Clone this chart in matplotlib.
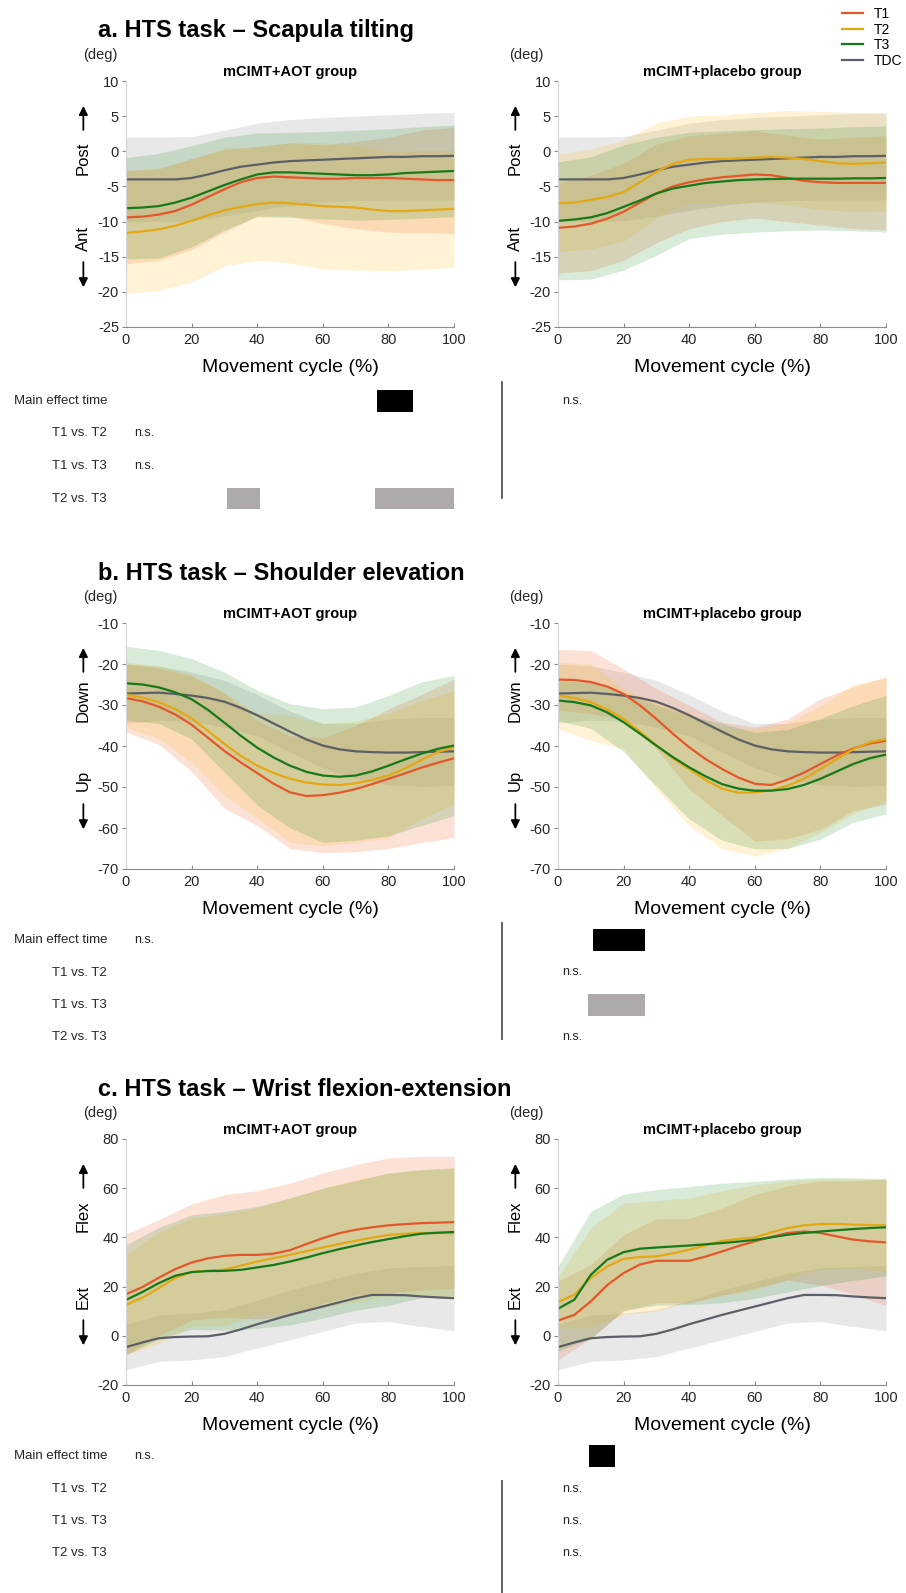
import numpy as np
import matplotlib
matplotlib.use("Agg")
import matplotlib.pyplot as plt
from matplotlib.lines import Line2D

plt.rcParams['font.family'] = ['Liberation Sans', 'DejaVu Sans']
plt.rcParams['axes.unicode_minus'] = False

# movement cycle grids (%)
x_mean = np.arange(0, 101, 5)
x_band = np.arange(0, 101, 10)

# ---------------- a. Scapula tilting ----------------
a_tdc = [-4.0, -4.0, -4.0, -4.0, -3.8, -3.3, -2.7, -2.2, -1.9, -1.6, -1.4, -1.3, -1.2, -1.1, -1.0, -0.9, -0.8, -0.8, -0.7, -0.7, -0.65]
a_tdc_hi = [2.0, 2.0, 2.1, 3.0, 4.0, 4.5, 4.8, 5.0, 5.2, 5.4, 5.5]
a_tdc_lo = [-10.0, -10.0, -9.9, -9.2, -8.4, -7.7, -7.2, -7.0, -6.9, -6.9, -6.9]

a_aot_t1 = [-9.4, -9.3, -9.0, -8.5, -7.6, -6.5, -5.4, -4.4, -3.8, -3.6, -3.7, -3.8, -3.9, -3.9, -3.8, -3.8, -3.8, -3.9, -4.0, -4.1, -4.1]
a_aot_t2 = [-11.6, -11.4, -11.1, -10.6, -9.9, -9.1, -8.4, -7.9, -7.5, -7.3, -7.4, -7.6, -7.8, -7.9, -8.0, -8.3, -8.5, -8.5, -8.4, -8.3, -8.2]
a_aot_t3 = [-8.1, -8.0, -7.8, -7.3, -6.6, -5.7, -4.8, -4.0, -3.3, -3.0, -3.0, -3.1, -3.2, -3.3, -3.4, -3.4, -3.3, -3.1, -3.0, -2.9, -2.8]
a_aot_t1_hi = [-2.7, -2.5, -1.0, 0.2, 0.7, 1.2, 0.9, 1.4, 2.0, 3.0, 3.4]
a_aot_t1_lo = [-16.0, -15.5, -14.0, -11.5, -9.2, -9.2, -10.3, -11.0, -11.5, -11.6, -11.7]
a_aot_t2_hi = [-2.9, -2.4, -1.2, 0.5, 0.5, 1.2, 1.2, 0.9, 0.0, 0.1, 0.1]
a_aot_t2_lo = [-20.2, -19.8, -18.6, -16.3, -15.5, -15.9, -16.8, -16.9, -17.0, -16.8, -16.5]
a_aot_t3_hi = [-0.9, -0.3, 0.8, 2.0, 2.6, 2.7, 2.8, 3.0, 3.2, 3.5, 3.7]
a_aot_t3_lo = [-15.3, -15.2, -13.6, -11.2, -9.3, -9.4, -9.6, -9.8, -9.7, -9.5, -9.3]

a_pla_t1 = [-10.9, -10.7, -10.3, -9.6, -8.6, -7.3, -6.0, -5.0, -4.4, -4.0, -3.7, -3.5, -3.3, -3.4, -3.8, -4.2, -4.4, -4.5, -4.5, -4.5, -4.5]
a_pla_t2 = [-7.4, -7.3, -6.9, -6.5, -5.8, -4.4, -2.9, -1.8, -1.2, -1.1, -1.1, -1.0, -0.9, -0.8, -0.9, -1.1, -1.4, -1.7, -1.8, -1.7, -1.6]
a_pla_t3 = [-9.9, -9.7, -9.4, -8.8, -7.9, -7.0, -6.0, -5.3, -4.9, -4.5, -4.3, -4.1, -4.0, -3.95, -3.9, -3.9, -3.9, -3.9, -3.85, -3.85, -3.8]
a_pla_t1_hi = [-4.5, -3.4, -1.7, 1.0, 2.2, 2.6, 2.9, 2.3, 1.7, 2.0, 2.2]
a_pla_t1_lo = [-17.3, -17.0, -15.5, -13.0, -11.0, -10.0, -9.5, -10.0, -10.5, -11.0, -11.2]
a_pla_t2_hi = [-0.4, 0.3, 1.6, 4.0, 5.0, 5.2, 5.5, 5.8, 5.7, 5.5, 5.3]
a_pla_t2_lo = [-14.3, -13.9, -12.8, -9.5, -7.4, -7.3, -7.3, -7.6, -8.3, -8.6, -8.5]
a_pla_t3_hi = [-1.5, -0.8, 0.9, 2.0, 2.7, 2.9, 3.1, 3.2, 3.3, 3.5, 3.6]
a_pla_t3_lo = [-18.3, -18.2, -16.9, -14.8, -12.4, -11.8, -11.5, -11.3, -11.2, -11.3, -11.5]

# ---------------- b. Shoulder elevation ----------------
b_tdc = [-27.2, -27.1, -27.0, -27.3, -27.7, -28.3, -29.2, -30.7, -32.5, -34.5, -36.5, -38.4, -39.9, -40.8, -41.3, -41.5, -41.6, -41.6, -41.5, -41.4, -41.3]
b_tdc_hi = [-20.0, -20.5, -22.0, -24.0, -27.5, -31.5, -34.5, -34.5, -33.5, -33.0, -33.0]
b_tdc_lo = [-34.4, -33.7, -34.0, -35.4, -37.5, -41.5, -45.3, -48.0, -49.5, -49.8, -49.6]

b_aot_t1 = [-28.3, -29.1, -30.4, -32.3, -34.8, -38.0, -41.2, -44.0, -46.6, -49.2, -51.3, -52.2, -52.0, -51.4, -50.5, -49.3, -48.0, -46.7, -45.3, -44.1, -43.0]
b_aot_t2 = [-27.5, -28.2, -29.3, -31.0, -33.3, -36.3, -39.5, -42.4, -44.8, -46.6, -48.0, -48.9, -49.4, -49.5, -49.1, -48.3, -47.2, -45.5, -43.4, -41.5, -40.3]
b_aot_t3 = [-24.7, -25.0, -25.7, -26.9, -28.6, -31.2, -34.3, -37.5, -40.4, -42.8, -44.8, -46.3, -47.2, -47.5, -47.2, -46.2, -44.8, -43.3, -41.9, -40.7, -39.9]
b_aot_t1_hi = [-20.0, -21.0, -23.0, -27.0, -33.8, -37.5, -38.0, -35.0, -31.0, -27.5, -23.7]
b_aot_t1_lo = [-36.6, -39.6, -46.2, -55.2, -59.4, -65.0, -66.0, -65.8, -65.0, -63.6, -62.3]
b_aot_t2_hi = [-19.5, -20.5, -22.5, -27.0, -32.0, -32.5, -34.5, -34.0, -32.0, -29.0, -26.5]
b_aot_t2_lo = [-35.5, -38.1, -44.1, -52.0, -57.6, -63.5, -64.3, -63.5, -62.4, -57.8, -54.1]
b_aot_t3_hi = [-15.7, -16.7, -18.7, -22.0, -26.4, -29.7, -30.9, -30.5, -27.7, -24.4, -22.8]
b_aot_t3_lo = [-33.7, -34.5, -38.3, -46.4, -54.4, -60.0, -63.5, -63.0, -61.9, -59.4, -57.0]

b_pla_t1 = [-23.8, -23.9, -24.4, -25.5, -27.3, -30.1, -33.4, -37.0, -40.3, -43.2, -45.6, -47.7, -49.2, -49.5, -48.2, -46.5, -44.4, -42.3, -40.6, -39.4, -38.7]
b_pla_t2 = [-27.7, -28.3, -29.3, -31.1, -33.4, -36.5, -39.9, -43.0, -45.6, -48.3, -50.4, -51.4, -51.3, -50.8, -49.7, -48.0, -45.6, -43.2, -40.8, -39.1, -38.3]
b_pla_t3 = [-28.9, -29.3, -30.1, -31.8, -34.2, -37.0, -39.9, -42.7, -45.2, -47.4, -49.3, -50.4, -50.9, -50.9, -50.5, -49.5, -48.0, -46.2, -44.4, -43.0, -42.1]
b_pla_t1_hi = [-16.4, -16.7, -21.2, -26.0, -30.1, -34.2, -35.4, -33.4, -28.5, -25.6, -23.2]
b_pla_t1_lo = [-31.2, -32.1, -33.4, -40.8, -50.5, -57.0, -63.2, -62.6, -60.3, -55.8, -54.2]
b_pla_t2_hi = [-19.6, -20.0, -26.1, -29.3, -31.8, -35.7, -35.8, -34.4, -30.2, -25.0, -23.3]
b_pla_t2_lo = [-35.8, -38.6, -40.7, -50.5, -59.4, -65.1, -66.8, -65.0, -61.0, -56.6, -53.3]
b_pla_t3_hi = [-24.0, -24.5, -27.0, -30.0, -32.6, -34.5, -36.7, -36.0, -33.3, -30.2, -27.6]
b_pla_t3_lo = [-33.8, -35.7, -41.4, -49.8, -57.8, -63.0, -65.1, -65.0, -62.7, -58.6, -56.6]

# ---------------- c. Wrist flexion-extension ----------------
c_tdc = [-4.6, -2.7, -1.0, -0.5, -0.3, -0.2, 0.8, 2.6, 4.7, 6.6, 8.5, 10.2, 11.9, 13.6, 15.3, 16.6, 16.6, 16.5, 16.0, 15.6, 15.3]
c_tdc_hi = [4.6, 8.4, 9.2, 10.6, 14.4, 18.6, 22.0, 25.4, 27.6, 28.2, 28.6]
c_tdc_lo = [-13.8, -10.4, -9.8, -8.4, -5.0, -1.6, 1.8, 5.2, 5.8, 3.8, 2.0]

c_aot_t1 = [16.9, 19.8, 23.6, 27.1, 29.8, 31.5, 32.5, 32.9, 32.9, 33.4, 34.8, 37.3, 39.7, 41.7, 43.1, 44.1, 44.9, 45.4, 45.8, 46.0, 46.2]
c_aot_t2 = [12.6, 15.5, 19.4, 23.5, 25.9, 26.5, 26.9, 28.5, 30.2, 31.6, 32.9, 34.4, 35.9, 37.3, 38.6, 39.9, 41.0, 41.5, 41.8, 41.8, 41.7]
c_aot_t3 = [14.6, 17.8, 21.4, 24.4, 25.9, 26.3, 26.4, 26.8, 27.8, 28.8, 30.2, 31.8, 33.6, 35.2, 36.7, 38.1, 39.3, 40.5, 41.5, 41.9, 42.2]
c_aot_t1_hi = [41.4, 47.2, 53.6, 57.4, 59.0, 62.1, 66.2, 69.6, 72.3, 73.0, 73.0]
c_aot_t1_lo = [-7.6, 0.2, 6.4, 7.6, 6.8, 7.9, 13.2, 16.6, 17.5, 18.6, 19.4]
c_aot_t2_hi = [32.9, 42.0, 47.9, 49.5, 52.0, 56.0, 60.0, 63.5, 66.0, 67.5, 68.5]
c_aot_t2_lo = [-7.7, -3.2, 3.9, 4.1, 8.4, 9.8, 11.8, 13.7, 16.2, 16.1, 15.0]
c_aot_t3_hi = [37.0, 44.0, 49.2, 50.5, 52.6, 56.0, 60.0, 63.0, 66.2, 67.5, 68.2]
c_aot_t3_lo = [-7.8, -1.2, 2.6, 2.3, 3.0, 4.4, 7.2, 10.4, 12.4, 15.5, 16.2]

c_pla_t1 = [6.2, 8.5, 14.0, 20.6, 25.5, 29.0, 30.5, 30.5, 30.5, 32.2, 34.3, 36.5, 38.4, 40.2, 41.8, 42.4, 41.8, 40.4, 39.1, 38.4, 38.0]
c_pla_t2 = [13.7, 16.7, 23.5, 28.2, 31.3, 32.0, 32.3, 33.5, 35.0, 36.8, 38.6, 39.4, 40.0, 42.0, 43.8, 44.9, 45.4, 45.5, 45.2, 45.0, 44.9]
c_pla_t3 = [11.0, 14.7, 24.8, 30.9, 34.0, 35.4, 35.9, 36.3, 36.7, 37.2, 37.7, 38.3, 39.0, 40.0, 41.1, 41.8, 42.4, 42.9, 43.4, 43.8, 44.1]
c_pla_t1_hi = [22.2, 29.0, 41.1, 47.5, 47.7, 52.0, 57.4, 61.0, 62.9, 63.0, 63.7]
c_pla_t1_lo = [-9.8, -1.0, 9.9, 13.5, 13.3, 16.6, 19.4, 22.6, 20.7, 16.9, 12.3]
c_pla_t2_hi = [24.1, 43.8, 54.0, 55.0, 56.0, 59.0, 61.4, 63.0, 63.7, 63.6, 63.5]
c_pla_t2_lo = [3.3, 3.2, 8.6, 10.0, 14.0, 16.2, 18.6, 23.0, 27.1, 27.2, 26.3]
c_pla_t3_hi = [28.2, 50.6, 57.6, 59.4, 60.7, 62.0, 62.8, 63.7, 64.4, 64.2, 63.9]
c_pla_t3_lo = [-6.2, -1.0, 10.4, 12.4, 12.7, 13.4, 15.2, 17.8, 20.4, 22.5, 24.3]

# ---------------- SPM statistics (significant clusters, % of cycle) ----------------
stat_rows = ["Main effect time", "T1 vs. T2", "T1 vs. T3", "T2 vs. T3"]
a_aot_stats = [[(76.5, 87.5)], "n.s.", "n.s.", [(30.8, 40.9), (76.0, 100.5)]]
a_pla_stats = ["n.s.", None, None, None]
b_aot_stats = ["n.s.", None, None, None]
b_pla_stats = [[(10.7, 26.5)], "n.s.", [(9.1, 26.5)], "n.s."]
c_aot_stats = ["n.s.", None, None, None]
c_pla_stats = [[(9.5, 17.4)], "n.s.", "n.s.", "n.s."]

series = ["T1", "T2", "T3", "TDC"]
line_cols = {"T1": "#E4572A", "T2": "#E3A812", "T3": "#16791A", "TDC": "#5E5E66"}
fill_cols = {"T1": "#F26B3A", "T2": "#FFC02E", "T3": "#3C963C", "TDC": "#8C8C8C"}

panels = [
    dict(title="a. HTS task \u2013 Scapula tilting", ylim=(-25, 10), yticks=np.arange(-25, 11, 5),
         dirs=("Post", "Ant"), top=81, stat_top=401, vline=(382, 498),
         tdc=(a_tdc, a_tdc_lo, a_tdc_hi),
         groups=[dict(T1=(a_aot_t1, a_aot_t1_lo, a_aot_t1_hi), T2=(a_aot_t2, a_aot_t2_lo, a_aot_t2_hi),
                      T3=(a_aot_t3, a_aot_t3_lo, a_aot_t3_hi), stats=a_aot_stats),
                 dict(T1=(a_pla_t1, a_pla_t1_lo, a_pla_t1_hi), T2=(a_pla_t2, a_pla_t2_lo, a_pla_t2_hi),
                      T3=(a_pla_t3, a_pla_t3_lo, a_pla_t3_hi), stats=a_pla_stats)]),
    dict(title="b. HTS task \u2013 Shoulder elevation", ylim=(-70, -10), yticks=np.arange(-70, -9, 10),
         dirs=("Down", "Up"), top=623, stat_top=940, vline=(923, 1039),
         tdc=(b_tdc, b_tdc_lo, b_tdc_hi),
         groups=[dict(T1=(b_aot_t1, b_aot_t1_lo, b_aot_t1_hi), T2=(b_aot_t2, b_aot_t2_lo, b_aot_t2_hi),
                      T3=(b_aot_t3, b_aot_t3_lo, b_aot_t3_hi), stats=b_aot_stats),
                 dict(T1=(b_pla_t1, b_pla_t1_lo, b_pla_t1_hi), T2=(b_pla_t2, b_pla_t2_lo, b_pla_t2_hi),
                      T3=(b_pla_t3, b_pla_t3_lo, b_pla_t3_hi), stats=b_pla_stats)]),
    dict(title="c. HTS task \u2013 Wrist flexion-extension", ylim=(-20, 80), yticks=np.arange(-20, 81, 20),
         dirs=("Flex", "Ext"), top=1139, stat_top=1456, vline=(1481, 1593),
         tdc=(c_tdc, c_tdc_lo, c_tdc_hi),
         groups=[dict(T1=(c_aot_t1, c_aot_t1_lo, c_aot_t1_hi), T2=(c_aot_t2, c_aot_t2_lo, c_aot_t2_hi),
                      T3=(c_aot_t3, c_aot_t3_lo, c_aot_t3_hi), stats=c_aot_stats),
                 dict(T1=(c_pla_t1, c_pla_t1_lo, c_pla_t1_hi), T2=(c_pla_t2, c_pla_t2_lo, c_pla_t2_hi),
                      T3=(c_pla_t3, c_pla_t3_lo, c_pla_t3_hi), stats=c_pla_stats)]),
]
group_names = ["mCIMT+AOT group", "mCIMT+placebo group"]

W, H = 906, 1593
AX_LEFT = [126, 558]
AX_W, AX_H = 328, 246
ROW_H = 32.5

fig = plt.figure(figsize=(W / 100, H / 100), dpi=100)


def fig_box(x0, y0, w, h):
    return [x0 / W, 1 - (y0 + h) / H, w / W, h / H]


for p in panels:
    fig.text(98 / W, 1 - (p["top"] - 50) / H, p["title"], fontsize=17, fontweight="bold",
             ha="left", va="center")
    for gi, g in enumerate(p["groups"]):
        x0 = AX_LEFT[gi]
        ax = fig.add_axes(fig_box(x0, p["top"], AX_W, AX_H))
        curves = dict(T1=g["T1"], T2=g["T2"], T3=g["T3"], TDC=p["tdc"])
        for s in ["TDC", "T1", "T2", "T3"]:
            m, lo, hi = curves[s]
            ax.fill_between(x_band, lo, hi, color=fill_cols[s], alpha=0.2, lw=0)
        for s in ["TDC", "T1", "T2", "T3"]:
            ax.plot(x_mean, curves[s][0], color=line_cols[s], lw=1.6, label=s)
        ax.set_xlim(0, 100)
        ax.set_ylim(*p["ylim"])
        ax.set_xticks(np.arange(0, 101, 20))
        ax.set_yticks(p["yticks"])
        for sp in ["top", "right"]:
            ax.spines[sp].set_visible(False)
        ax.spines["left"].set_color("#d4d4d4")
        ax.spines["bottom"].set_color("#8a8a8a")
        ax.tick_params(axis="x", direction="in", length=3, color="#8a8a8a", labelsize=10.5,
                       labelcolor="#262626", pad=4)
        ax.tick_params(axis="y", direction="out", length=3, color="#8a8a8a", labelsize=10.5,
                       labelcolor="#262626", pad=2)
        ax.set_xlabel("Movement cycle (%)", fontsize=14, labelpad=9)
        # group title and unit
        fig.text((x0 + AX_W / 2) / W, 1 - (p["top"] - 9) / H, group_names[gi], fontsize=10.5,
                 fontweight="bold", ha="center", va="center")
        fig.text((x0 - 26 - 6 * gi) / W, 1 - (p["top"] - 26) / H, "(deg)", fontsize=10.5,
                 ha="center", va="center", color="#262626")
        # direction labels with arrows
        up, down = p["dirs"]
        ax.text(-0.13, 0.685, up, rotation=90, fontsize=12, ha="center", va="center",
                transform=ax.transAxes)
        ax.text(-0.13, 0.36, down, rotation=90, fontsize=12, ha="center", va="center",
                transform=ax.transAxes)
        ax.annotate("", xy=(-0.13, 0.91), xytext=(-0.13, 0.79), xycoords="axes fraction",
                    arrowprops=dict(arrowstyle="-|>", color="k", lw=1.3, mutation_scale=13))
        ax.annotate("", xy=(-0.13, 0.15), xytext=(-0.13, 0.275), xycoords="axes fraction",
                    arrowprops=dict(arrowstyle="-|>", color="k", lw=1.3, mutation_scale=13))

        # statistics strip
        sax = fig.add_axes(fig_box(x0, p["stat_top"] - ROW_H / 2, AX_W, ROW_H * 4))
        sax.set_xlim(0, 100)
        sax.set_ylim(3.5, -0.5)
        sax.axis("off")
        for ri, entry in enumerate(g["stats"]):
            if entry is None:
                continue
            if entry == "n.s.":
                sax.text(2.4 if gi == 0 else 1.2, ri, "n.s.", fontsize=9, ha="left", va="center",
                         color="#262626")
            else:
                col = "#000000" if ri == 0 else "#aeaaaa"
                sax.broken_barh([(s0, s1 - s0) for s0, s1 in entry], (ri - 0.33, 0.66),
                                facecolors=col, edgecolor="none")

    for ri, lab in enumerate(stat_rows):
        fig.text(107 / W, 1 - (p["stat_top"] + ri * ROW_H) / H, lab, fontsize=9.5, ha="right",
                 va="center", color="#262626")
    v0, v1 = p["vline"]
    fig.add_artist(Line2D([502 / W, 502 / W], [1 - v0 / H, 1 - v1 / H], color="#555555", lw=1.3))

handles, labels = ax.get_legend_handles_labels()
order = [labels.index(s) for s in series]
fig.legend([handles[i] for i in order], [labels[i] for i in order], loc="upper left",
           bbox_to_anchor=(842 / W, 1 - 7 / H), frameon=False, fontsize=10,
           handlelength=1.5, handletextpad=0.8, labelspacing=0.12, borderpad=0, borderaxespad=0)

fig.savefig("out.png", dpi=100)
